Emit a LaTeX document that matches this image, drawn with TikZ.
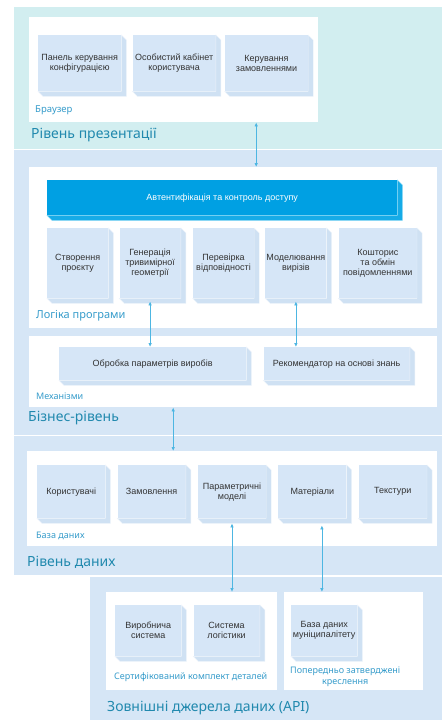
\documentclass[tikz,border=0pt]{standalone}
\usepackage{fontspec}
\setmainfont{Liberation Sans}
\newfontfamily\titlefont{Noto Sans}
\usetikzlibrary{arrows.meta,positioning}
\definecolor{toplayer}{HTML}{D2EEF0}
\definecolor{layer}{HTML}{D6E6F6}
\definecolor{blkfront}{HTML}{D6E6F7}
\definecolor{blkside}{HTML}{CFE1F3}
\definecolor{blkedge}{HTML}{ECF3FB}
\definecolor{authfill}{HTML}{00A0E3}
\definecolor{authside}{HTML}{16ABE7}
\definecolor{authedge}{HTML}{7AD3F4}
\definecolor{titlec}{HTML}{2189AE}
\definecolor{labelc}{HTML}{369CCB}
\definecolor{arrc}{HTML}{4DB6E2}
\tikzset{
  layerbox/.style={rectangle, fill=layer, anchor=north west, inner sep=0pt},
  panel/.style={rectangle, fill=white, anchor=north west, inner sep=0pt},
  blk/.style={rectangle, fill=blkfront, text=black!80, align=center, inner sep=1pt, font=\fontsize{9}{10}\selectfont},
  authbar/.style={blk, fill=authfill, text=white},
  tier/.style={anchor=west, text=titlec, inner sep=0pt, font=\titlefont\fontsize{14}{16}\selectfont},
  grp/.style={anchor=west, text=labelc, inner sep=0pt, align=center, font=\titlefont\fontsize{9}{10.5}\selectfont},
  arr/.style={{Latex[length=4pt,width=3.6pt]}-{Latex[length=4pt,width=3.6pt]}, draw=arrc, line width=0.8pt}
}
\newcommand{\extrude}[3]{%
  \filldraw[fill=#1, draw=#2, line width=0.4pt] (#3.north east) -- ++(5pt,-5pt)
    -- ([shift={(5pt,-5pt)}]#3.south east) -- ([shift={(5pt,-5pt)}]#3.south west)
    -- (#3.south west) -- (#3.south east) -- cycle;}

\begin{document}
\begin{tikzpicture}[x=1pt, y=-1pt,
  ui/.style={blk, minimum width=83pt, minimum height=56pt},
  logicblk/.style={blk, minimum width=61pt, minimum height=70pt},
  mechblk/.style={blk, minimum height=33pt},
  dbblk/.style={blk, minimum width=68pt, minimum height=53pt},
  extblk/.style={blk, minimum width=66pt, minimum height=51pt}]
\useasboundingbox (0,0) rectangle (442,720);

\node[layerbox, fill=toplayer, minimum width=428pt, minimum height=142pt] (pres) at (14,7) {};
\node[layerbox, minimum width=428pt, minimum height=285pt] (bus) at (14,150) {};
\node[layerbox, minimum width=428pt, minimum height=139pt] (data) at (14,436) {};
\node[layerbox, minimum width=352pt, minimum height=143pt] (api) at (90,577) {};

\node[panel, minimum width=289pt, minimum height=105pt] (browser) at (29,17) {};
\node[panel, minimum width=408pt, minimum height=161pt] (logic) at (29,167) {};
\node[panel, minimum width=408pt, minimum height=71pt] (mech) at (29,336) {};
\node[panel, minimum width=410pt, minimum height=95pt] (db) at (27,451) {};
\node[panel, minimum width=171pt, minimum height=98pt] (cert) at (106,592) {};
\node[panel, minimum width=139pt, minimum height=98pt] (plans) at (284,592) {};

\node[ui, anchor=north west] (panel) at (38,35) {Панель керування\\конфігурацією};
\node[ui, right=11pt of panel] (cabinet) {Особистий кабінет\\користувача};
\node[ui, right=9pt of cabinet] (orders) {Керування\\замовленнями};

\node[authbar, minimum width=350pt, minimum height=35pt, anchor=north west] (auth) at (47,180) {Автентифікація та контроль доступу};
\node[logicblk, anchor=north west] (create) at (47,228) {Створення\\проєкту};
\node[logicblk, right=11pt of create] (gen) {Генерація\\тривимірної\\геометрії};
\node[logicblk, right=12pt of gen] (check) {Перевірка\\відповідності};
\node[logicblk, right=11pt of check] (model) {Моделювання\\вирізів};
\node[logicblk, minimum width=78pt, right=12pt of model] (cost) {Кошторис\\та обмін\\повідомленнями};

\node[mechblk, minimum width=187pt, anchor=north west] (proc) at (59,347) {Обробка параметрів виробів};
\node[mechblk, minimum width=146pt, right=17pt of proc] (rec) {Рекомендатор на основі знань};

\node[dbblk, anchor=north west] (users) at (37,465) {Користувачі};
\node[dbblk, right=12pt of users] (ordersdb) {Замовлення};
\node[dbblk, right=12pt of ordersdb] (param) {Параметричні\\моделі};
\node[dbblk, right=12pt of param] (mater) {Матеріали};
\node[dbblk, right=12pt of mater] (text) {Текстури};

\node[extblk, anchor=north west] (prod) at (115,605) {Виробнича\\система};
\node[extblk, right=12pt of prod] (logist) {Система\\логістики};
\node[extblk, anchor=north west] (munic) at (291,605) {База даних\\муніципалітету};

\extrude{authside}{authedge}{auth}
\foreach \n in {panel,cabinet,orders,create,gen,check,model,cost,proc,rec,users,ordersdb,param,mater,text,prod,logist,munic}
  \extrude{blkside}{blkedge}{\n};

\node[grp, font=\titlefont\fontsize{9.5}{11}\selectfont] (browserlbl) at (35,110) {Браузер};
\node[tier] (prestitle) at (31,135) {Рівень презентації};
\node[grp, font=\titlefont\fontsize{11}{13}\selectfont] (logiclbl) at (36,316) {Логіка програми};
\node[grp] (mechlbl) at (36,396) {Механізми};
\node[tier] (bustitle) at (28,418) {Бізнес-рівень};
\node[grp] (dblbl) at (36,536) {База даних};
\node[tier] (datatitle) at (27,562) {Рівень даних};
\node[grp] (certlbl) at (114,677) {Сертифікований комплект деталей};
\node[grp] (planslbl) at (290,677) {Попередньо затверджені\\креслення};
\node[tier] (apititle) at (107,708) {Зовнішні джерела даних (API)};

\draw[arr] ([xshift=82.5pt]browser.south) -- ([xshift=82.5pt]browser.south |- logic.north);
\draw[arr] ([yshift=-3pt]gen.south) -- (gen.south |- proc.north);
\draw[arr] ([yshift=-3pt]model.south) -- (model.south |- rec.north);
\draw[arr] ([xshift=-60pt]mech.south) -- ([xshift=-60pt]mech.south |- db.north);
\draw[arr] ([yshift=-5pt]param.south) -- (param.south |- cert.north);
\draw[arr] ([xshift=9.5pt,yshift=-7pt]mater.south) -- ([xshift=9.5pt]mater.south |- plans.north);
\end{tikzpicture}
\end{document}
